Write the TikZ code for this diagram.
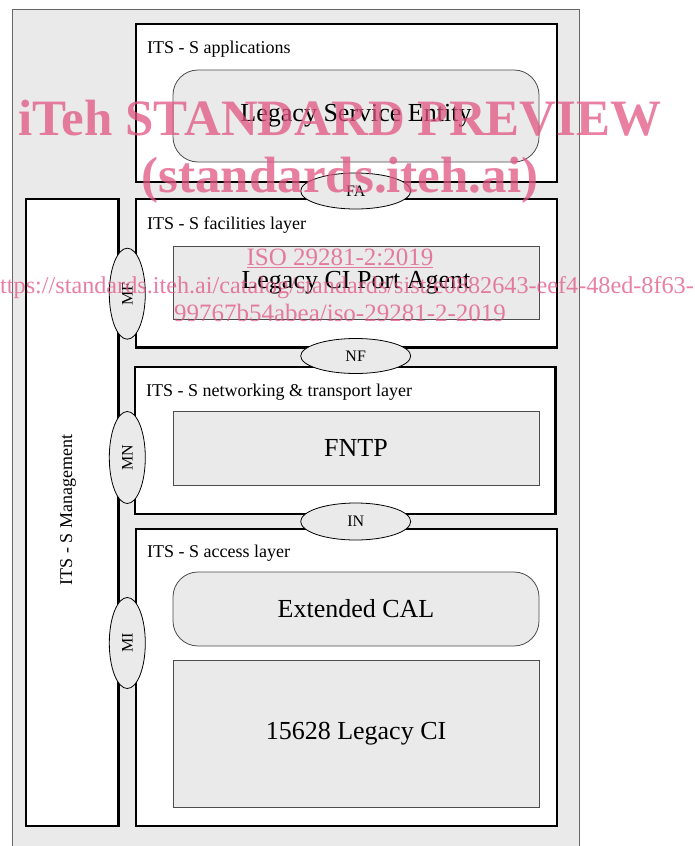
\documentclass[tikz,border=0pt]{standalone}
\usepackage{fontspec}
\setmainfont{Liberation Serif}
\usetikzlibrary{shapes.geometric}
\definecolor{boxgray}{RGB}{234,234,234}
\definecolor{wmpink}{RGB}{225,85,130}

\tikzset{
  layerbox/.style={draw=black, line width=2.2pt, fill=white, minimum width=421pt, inner sep=0pt},
  entitybox/.style={draw=black!70, line width=0.8pt, fill=boxgray, minimum width=366pt, inner sep=0pt, font=\fontsize{26}{28}\selectfont},
  roundbox/.style={entitybox, rounded corners=25pt},
  sap/.style={ellipse, draw=black, line width=0.8pt, fill=boxgray, inner sep=0pt, font=\fontsize{16}{18}\selectfont},
  layerlabel/.style={anchor=base west, inner sep=0pt, font=\fontsize{18}{20}\selectfont},
  watermark/.style={text=wmpink, text opacity=0.75, inner sep=0pt, anchor=base}
}

\begin{document}
\begin{tikzpicture}[x=1pt,y=-1pt]
\clip (0,0) rectangle (695,846);
% background frame
\draw [draw=black!60, line width=0.8pt, fill=boxgray] (12,9.5) rectangle (579,870);

%% management entity
\node [layerbox, minimum width=92.5pt, minimum height=627pt] (mgmt) at (72.25,512.5) {};
\node [rotate=90, inner sep=0pt, font=\fontsize{18}{20}\selectfont] (mgmtlabel) at (68,510) {ITS - S Management};

%% layers
\node [layerbox, minimum height=158pt] (apps) at (346.5,103) {};
\node [layerbox, minimum height=148.5pt] (facil) at (346.5,273.25) {};
\node [layerbox, minimum width=420.5pt, minimum height=147pt] (netw) at (345.25,440.5) {};
\node [layerbox, minimum height=297pt] (access) at (346.5,677.5) {};

\node [layerlabel] (appslabel) at (147,53) {ITS - S applications};
\node [layerlabel] (facillabel) at (147,229) {ITS - S facilities layer};
\node [layerlabel] (netwlabel) at (146,396) {ITS - S networking \& transport layer};
\node [layerlabel] (accesslabel) at (147,557) {ITS - S access layer};

%% entities inside the layers
\node [roundbox, minimum height=92pt] (lse) at (356,116) {Legacy Service Entity};
\node [entitybox, minimum height=73pt] (lcipa) at (356,282.5) {Legacy CI Port Agent};
\node [entitybox, minimum height=73.3pt] (fntp) at (356,448.3) {FNTP};
\node [roundbox, minimum height=74pt] (ecal) at (356,609) {Extended CAL};
\node [entitybox, minimum height=146.3pt] (lci) at (356,733.8) {15628 Legacy CI};

%% service access points
\node [sap, minimum width=110pt, minimum height=36pt] (fa) at (355.7,191) {FA};
\node [sap, minimum width=110pt, minimum height=35pt] (nf) at (355.7,356) {NF};
\node [sap, minimum width=110pt, minimum height=37pt] (in) at (355.7,521.5) {IN};
\node [sap, rotate=90, minimum width=91pt, minimum height=36pt] (mf) at (127.3,293.7) {MF};
\node [sap, rotate=90, minimum width=92pt, minimum height=36pt] (mn) at (127.3,457.5) {MN};
\node [sap, rotate=90, minimum width=91pt, minimum height=36pt] (mi) at (127.3,643) {MI};

%% watermark
\node [watermark, font=\fontsize{51}{54}\selectfont\bfseries] (wmtitle) at (340,135) {iTeh STANDARD PREVIEW};
\node [watermark, font=\fontsize{51}{54}\selectfont\bfseries] (wmsite) at (340,192) {(standards.iteh.ai)};
\node [watermark, font=\fontsize{25}{27}\selectfont] (wmiso) at (340,265) {\underline{ISO 29281-2:2019}};
\node [watermark, anchor=base east, font=\fontsize{24.2}{26}\selectfont] (wmurl) at (694,293) {https://standards.iteh.ai/catalog/standards/sist/e0882643-eef4-48ed-8f63-};
\node [watermark, font=\fontsize{25}{27}\selectfont] (wmdoc) at (340,321) {99767b54abea/iso-29281-2-2019};
\end{tikzpicture}
\end{document}
